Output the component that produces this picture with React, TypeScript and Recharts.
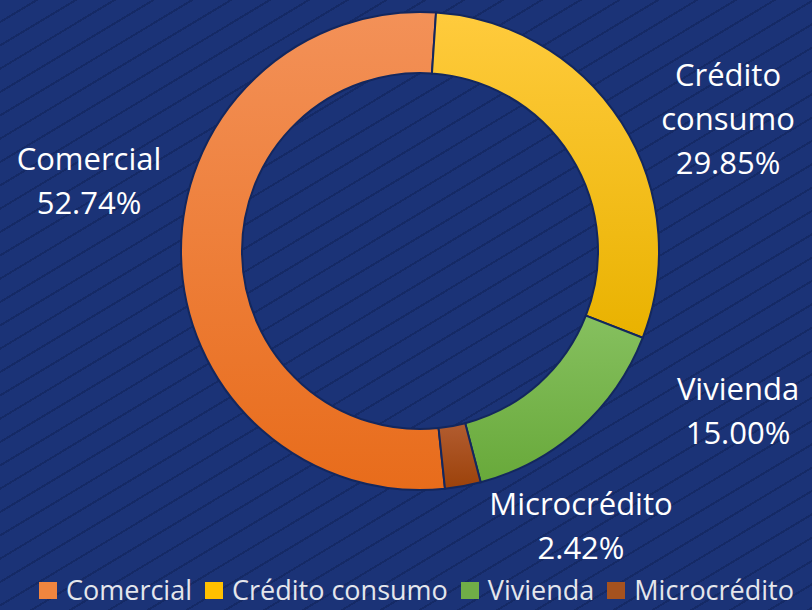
import { PieChart, Pie, Cell, Legend } from 'recharts';

const categories = ['Comercial', 'Crédito consumo', 'Vivienda', 'Microcrédito'];
const shares = [52.74, 29.85, 15.0, 2.42];
const topColors = ['#F39158', '#FFCB3D', '#86C05F', '#B25C30'];
const bottomColors = ['#E86C1B', '#E9B200', '#68A93A', '#9C420A'];
const swatchColors = ['#F0853F', '#FFC000', '#70AD47', '#A5521F'];
// label anchor relative to pie centre (first baseline)
const labelOffsets = [
  [-331, -81],
  [308, -165],
  [318, 149],
  [161, 264],
];

const data = categories.map((name, i) => ({ name, value: shares[i] }));

const FONT = '"Open Sans", "Noto Sans", sans-serif';

// eslint-disable-next-line @typescript-eslint/no-explicit-any
const renderLabel = (props: any) => {
  const { cx, cy, index, name, value } = props;
  const [dx, dy] = labelOffsets[index];
  const lines = [...String(name).split(' '), `${Number(value).toFixed(2)}%`];
  return (
    <text
      x={cx + dx}
      y={cy + dy}
      textAnchor="middle"
      fill="#FFFFFF"
      fontSize={31}
      fontFamily={FONT}
    >
      {lines.map((l, i) => (
        <tspan key={i} x={cx + dx} dy={i === 0 ? 0 : 44}>
          {l}
        </tspan>
      ))}
    </text>
  );
};

// legend drawn in category order (recharts would sort by name)
const renderLegend = () => (
  <div style={{ display: 'flex', alignItems: 'center', whiteSpace: 'nowrap', fontFamily: FONT, height: 24 }}>
    {categories.map((c, i) => (
      <div key={c} style={{ display: 'flex', alignItems: 'center', marginRight: 13 }}>
        <span
          style={{
            display: 'inline-block',
            width: 18,
            height: 17,
            background: swatchColors[i],
            marginRight: 9,
          }}
        />
        <span style={{ fontSize: 27, color: '#E4E6EC', lineHeight: '24px' }}>{c}</span>
      </div>
    ))}
  </div>
);

export default function App() {
  return (
    <div
      style={{
        position: 'fixed',
        left: 0,
        top: 0,
        width: 812,
        height: 610,
        overflow: 'hidden',
        backgroundColor: '#1B3377',
        backgroundImage:
          'repeating-linear-gradient(149deg, rgba(0,0,0,0) 0px, rgba(0,0,0,0) 18px, rgba(10,25,70,0.35) 18px, rgba(10,25,70,0.35) 20px)',
      }}
    >
      <PieChart width={812} height={610} margin={{ top: 0, right: 0, bottom: 0, left: 0 }}>
        <defs>
          {categories.map((c, i) => (
            <linearGradient key={c} id={`grad${i}`} x1="0" y1="0" x2="0" y2="1">
              <stop offset="0%" stopColor={topColors[i]} />
              <stop offset="100%" stopColor={bottomColors[i]} />
            </linearGradient>
          ))}
        </defs>
        <Pie
          data={data}
          dataKey="value"
          nameKey="name"
          cx={420}
          cy={251}
          innerRadius={178}
          outerRadius={239}
          startAngle={-84}
          endAngle={-444}
          stroke="#13275E"
          strokeWidth={2}
          label={renderLabel}
          labelLine={false}
          isAnimationActive={false}
        >
          {data.map((d, i) => (
            <Cell key={d.name} fill={`url(#grad${i})`} />
          ))}
        </Pie>
        <Legend
          content={renderLegend}
          wrapperStyle={{ position: 'absolute', left: 39, top: 578, width: 'auto', height: 24 }}
        />
      </PieChart>
    </div>
  );
}
